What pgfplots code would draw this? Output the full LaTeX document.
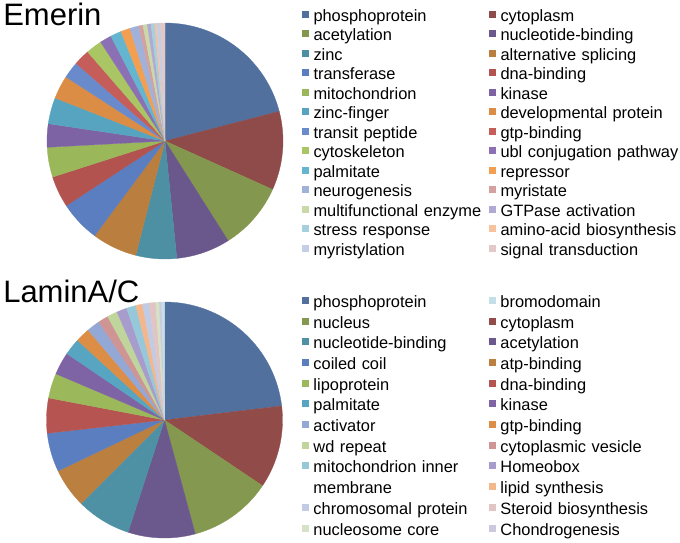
\documentclass[border=0pt]{standalone}
\usepackage{fontspec}
\setmainfont{Liberation Sans}
\usepackage{pgfplots}
\usepackage{pgfplotstable}
\pgfplotsset{compat=1.18}

% Excel-style slice colours, one per slice in pie order
\definecolor{E1}{HTML}{51709E}\definecolor{E2}{HTML}{8F4B49}\definecolor{E3}{HTML}{84974F}
\definecolor{E4}{HTML}{6A578C}\definecolor{E5}{HTML}{4D8FA3}\definecolor{E6}{HTML}{BA7E3F}
\definecolor{E7}{HTML}{5A7EC0}\definecolor{E8}{HTML}{B35350}\definecolor{E9}{HTML}{9AB75A}
\definecolor{E10}{HTML}{7D63A4}\definecolor{E11}{HTML}{56A4BF}\definecolor{E12}{HTML}{DB8D45}
\definecolor{E13}{HTML}{6A8BCB}\definecolor{E14}{HTML}{C55E5B}\definecolor{E15}{HTML}{A9C564}
\definecolor{E16}{HTML}{8C70B4}\definecolor{E17}{HTML}{63B5D0}\definecolor{E18}{HTML}{F29F52}
\definecolor{E19}{HTML}{A0B2DA}\definecolor{E20}{HTML}{D2A1A0}\definecolor{E21}{HTML}{CAD9A8}
\definecolor{E22}{HTML}{B1A8D3}\definecolor{E23}{HTML}{A6D0DF}\definecolor{E24}{HTML}{F6C39D}
\definecolor{E25}{HTML}{C5CEE7}\definecolor{E26}{HTML}{E2C8C7}

\definecolor{L1}{HTML}{51709E}\definecolor{L2}{HTML}{914C4A}\definecolor{L3}{HTML}{85984F}
\definecolor{L4}{HTML}{6B588D}\definecolor{L5}{HTML}{4E90A4}\definecolor{L6}{HTML}{BB7F40}
\definecolor{L7}{HTML}{5A7EC0}\definecolor{L8}{HTML}{B55451}\definecolor{L9}{HTML}{9BB85B}
\definecolor{L10}{HTML}{7E64A5}\definecolor{L11}{HTML}{57A5C0}\definecolor{L12}{HTML}{DD8E46}
\definecolor{L13}{HTML}{94A8D6}\definecolor{L14}{HTML}{CE9594}\definecolor{L15}{HTML}{BFD59C}
\definecolor{L16}{HTML}{A79CCB}\definecolor{L17}{HTML}{96C8D9}\definecolor{L18}{HTML}{F4B78B}
\definecolor{L19}{HTML}{C1CBE6}\definecolor{L20}{HTML}{E0C5C4}\definecolor{L21}{HTML}{D6E2C5}
\definecolor{L22}{HTML}{CCC8DF}\definecolor{L23}{HTML}{C5DFE8}

% shares in percent, clockwise from 12 o'clock
\pgfplotstableread[col sep=comma]{
label,value
phosphoprotein,21.0
cytoplasm,10.8
acetylation,9.3
nucleotide-binding,7.4
zinc,5.6
alternative splicing,6.2
transferase,5.6
dna-binding,4.3
mitochondrion,4.1
kinase,3.2
zinc-finger,3.6
developmental protein,3.2
transit peptide,2.3
gtp-binding,2.2
cytoskeleton,2.2
ubl conjugation pathway,1.6
palmitate,1.5
repressor,1.3
neurogenesis,1.2
myristate,0.6
multifunctional enzyme,0.6
GTPase activation,0.5
stress response,0.5
amino-acid biosynthesis,0.3
myristylation,0.5
signal transduction,0.6
}\emerin

\pgfplotstableread[col sep=comma]{
label,value
phosphoprotein,23.1
cytoplasm,11.3
nucleus,11.4
acetylation,9.2
nucleotide-binding,7.5
atp-binding,5.4
coiled coil,5.3
dna-binding,4.8
lipoprotein,3.4
kinase,3.1
palmitate,2.3
gtp-binding,2.0
activator,1.8
cytoplasmic vesicle,1.4
wd repeat,1.4
Homeobox,1.4
mitochondrion inner,1.3
lipid synthesis,0.9
chromosomal protein,0.9
Steroid biosynthesis,0.9
nucleosome core,0.5
Chondrogenesis,0.3
bromodomain,0.4
}\lamin

% #1 table, #2 colour prefix
\newcommand\drawslices[2]{%
  \pgfplotstablegetrowsof{#1}%
  \pgfmathtruncatemacro\lastrow{\pgfplotsretval-1}%
  \def\pietotal{0}%
  \pgfplotsforeachungrouped \r in {0,...,\lastrow}{%
    \pgfplotstablegetelem{\r}{value}\of{#1}%
    \pgfmathsetmacro\pietotal{\pietotal+\pgfplotsretval}}%
  \pgfmathsetmacro\piescale{360/\pietotal}%
  \def\piecum{0}%
  \pgfplotsforeachungrouped \r in {0,...,\lastrow}{%
    \pgfplotstablegetelem{\r}{value}\of{#1}%
    \pgfmathsetmacro\pa{90-\piescale*\piecum}%
    \pgfmathsetmacro\piecum{\piecum+\pgfplotsretval}%
    \pgfmathsetmacro\pb{90-\piescale*\piecum}%
    \pgfmathtruncatemacro\pn{max(3,ceil((\pa-\pb)/2)+1)}%
    \pgfmathtruncatemacro\ci{\r+1}%
    \edef\doslice{\noexpand\addplot[forget plot,fill=#2\ci,draw=#2\ci,line width=0.3pt,
      domain=\pb:\pa,samples=\pn] ({cos(x)},{sin(x)}) -- (axis cs:0,0) -- cycle;}%
    \doslice}%
}

% legend entries in the given row order
\newcommand\legendfrom[3]{%
  \pgfplotsforeachungrouped \r in {#3}{%
    \pgfplotstablegetelem{\r}{label}\of{#1}%
    \let\lbl\pgfplotsretval
    \pgfmathtruncatemacro\ci{\r+1}%
    \edef\doentry{\noexpand\addlegendimage{fill=#2\ci}\noexpand\addlegendentry{\noexpand\mbox{\lbl}}}%
    \doentry}%
}

\pgfplotsset{
  pie/.style={
    width=236pt, height=236pt, scale only axis, hide axis, clip=false,
    xmin=-1, xmax=1, ymin=-1, ymax=1, anchor=center,
    title style={anchor=base west, inner sep=0pt, yshift=0pt, font=\fontsize{31}{31}\selectfont},
    legend columns=2, legend cell align=left,
    legend image code/.code={\fill[##1,draw=none] (0pt,-0.5pt) rectangle (7pt,6.5pt);
      \path[draw=none,fill=none] (0pt,0pt) -- (11.5pt,0pt);},
    legend style={draw=none, fill=none, inner sep=0pt, outer sep=0pt, anchor=north west,
      column sep=0pt, font=\fontsize{16.4}{16.4}\selectfont,
      nodes={inner sep=0pt, text height=12pt, text depth=4pt, text width=175.5pt, align=left}},
  },
}

\begin{document}
\begin{tikzpicture}
\useasboundingbox (0pt,0pt) rectangle (680pt,542pt);

\begin{axis}[pie, at={(165pt,401pt)},
  title={Emerin}, title style={at={(axis description cs:-0.186,0.964)}},
  legend style={at={(axis description cs:1.0805,1.0593)}, row sep=3.5pt}]
  \drawslices{\emerin}{E}
  \legendfrom{\emerin}{E}{0,...,25}
\end{axis}

\begin{axis}[pie, at={(164.5pt,122pt)},
  title={LaminA/C}, title style={at={(axis description cs:-0.184,0.972)}},
  legend style={at={(axis description cs:1.0826,1.0284)}, row sep=4.7pt}]
  \drawslices{\lamin}{L}
  \legendfrom{\lamin}{L}{0,22,2,1,4,3,6,5,8,7,10,9,12,11,14,13,16,15}
  \addlegendimage{empty legend}\addlegendentry{membrane}
  \legendfrom{\lamin}{L}{17,18,19,20,21}
\end{axis}
\end{tikzpicture}
\end{document}
